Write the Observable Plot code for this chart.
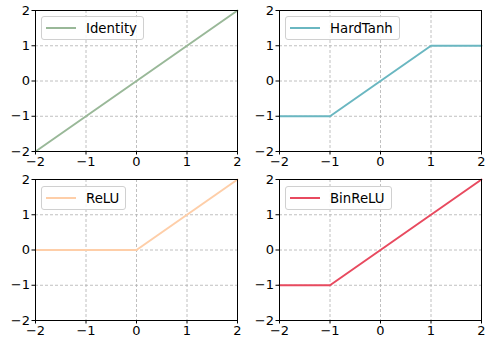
<!DOCTYPE html>
<html>
<head>
<meta charset="utf-8">
<script src="https://cdn.jsdelivr.net/npm/d3@7"></script>
<script src="https://cdn.jsdelivr.net/npm/@observablehq/plot@0.6"></script>
<style>
  html, body { margin: 0; padding: 0; background: white; }
  #wrap { position: relative; width: 485px; height: 346px; overflow: hidden; font-family: "DejaVu Sans", sans-serif; }
  .panel { position: absolute; }
  .panel svg { overflow: visible; }
  .legend { position: absolute; height: 24px; border: 1px solid #d0d0d0; border-radius: 3px; background: rgba(255,255,255,0.85); box-sizing: border-box; display: flex; align-items: center; padding: 0 6px 0 4px; font-size: 13.3px; color: #000; white-space: nowrap; }
  .legend .sw { display: inline-block; width: 30px; height: 2px; margin-right: 10px; }
</style>
</head>
<body>
<div id="wrap"></div>
<script>
// Data
const xs = [-2, -1, 0, 1, 2];
const names = ["Identity", "HardTanh", "ReLU", "BinReLU"];
const colors = ["#99B898", "#6AB7C1", "#FECEA8", "#E84A5F"];
const identityY = [-2, -1, 0, 1, 2];
const hardTanhY = [-1, -1, 0, 1, 1];
const reluY = [0, 0, 0, 1, 2];
const binReluY = [-1, -1, 0, 1, 2];
const tickValues = [-2, -1, 0, 1, 2];

const series = [identityY, hardTanhY, reluY, binReluY];
const positions = [
  {left: 0, top: 0, lx: 41, ly: 16},
  {left: 244, top: 0, lx: 285, ly: 16},
  {left: 0, top: 169, lx: 41, ly: 186},
  {left: 244, top: 169, lx: 285, ly: 186}
];

const wrap = document.getElementById("wrap");

series.forEach((ys, i) => {
  const data = xs.map((x, j) => ({x, y: ys[j]}));
  const chart = Plot.plot({
    width: 240,
    height: 176,
    marginLeft: 35,
    marginRight: 3,
    marginTop: 10,
    marginBottom: 25,
    style: {fontFamily: "DejaVu Sans, sans-serif", fontSize: "13px", color: "black", background: "transparent", overflow: "visible"},
    x: {domain: [-2, 2]},
    y: {domain: [-2, 2]},
    marks: [
      Plot.gridX(tickValues, {stroke: "#b0b0b0", strokeOpacity: 1, strokeDasharray: "3,2", strokeWidth: 0.8}),
      Plot.gridY(tickValues, {stroke: "#b0b0b0", strokeOpacity: 1, strokeDasharray: "3,2", strokeWidth: 0.8}),
      Plot.line(data, {x: "x", y: "y", stroke: colors[i], strokeWidth: 2}),
      Plot.frame({stroke: "black", strokeWidth: 1}),
      Plot.axisX(tickValues, {tickSize: 3.5, tickPadding: 2, label: null, fontSize: 13}),
      Plot.axisY(tickValues, {tickSize: 3.5, tickPadding: 2, label: null, fontSize: 13})
    ]
  });
  const div = document.createElement("div");
  div.className = "panel";
  div.style.left = positions[i].left + "px";
  div.style.top = positions[i].top + "px";
  div.appendChild(chart);
  wrap.appendChild(div);

  const lg = document.createElement("div");
  lg.className = "legend";
  lg.style.left = positions[i].lx + "px";
  lg.style.top = positions[i].ly + "px";
  const sw = document.createElement("span");
  sw.className = "sw";
  sw.style.background = colors[i];
  lg.appendChild(sw);
  lg.appendChild(document.createTextNode(names[i]));
  wrap.appendChild(lg);
});
</script>
</body>
</html>
